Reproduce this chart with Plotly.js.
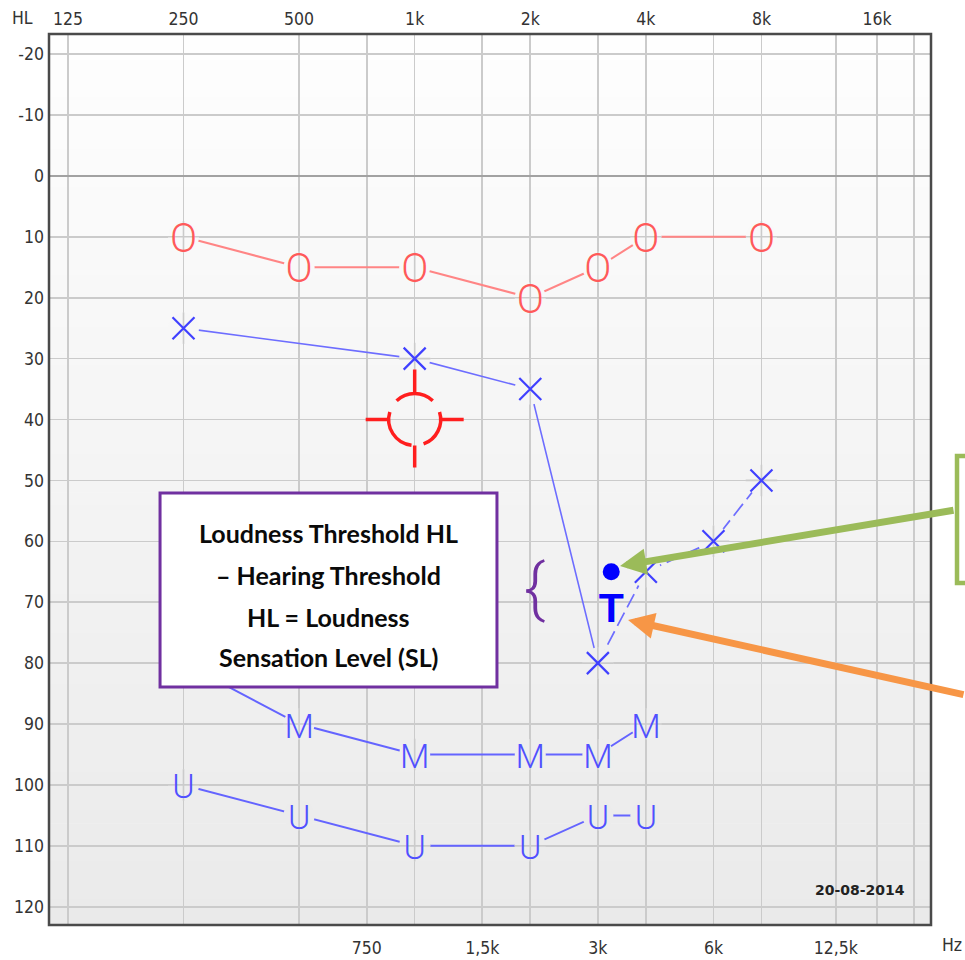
<!DOCTYPE html>
<html><head><meta charset="utf-8">
<script src="https://cdn.plot.ly/plotly-3.0.1.min.js"></script>
<style>html,body{margin:0;padding:0;background:#fff;}#chart{width:965px;height:960px;}</style>
</head><body><div id="chart"></div>
<script>
// ---------- data ----------
const TOP_TICK_FREQS = [125, 250, 500, 1000, 2000, 4000, 8000, 16000];
const TOP_TICK_LABELS = ['125', '250', '500', '1k', '2k', '4k', '8k', '16k'];
const BOTTOM_TICK_FREQS = [750, 1500, 3000, 6000, 12500];
const BOTTOM_TICK_LABELS = ['750', '1,5k', '3k', '6k', '12,5k'];
const GRID_FREQS = [125, 250, 500, 750, 1000, 1500, 2000, 3000, 4000, 6000, 8000, 12500, 16000, 20000];
const HL_TICKS = [-20, -10, 0, 10, 20, 30, 40, 50, 60, 70, 80, 90, 100, 110, 120];

const O_FREQ = [250, 500, 1000, 2000, 3000, 4000, 8000];
const O_HL = [10, 15, 15, 20, 15, 10, 10];
const X_FREQ = [250, 1000, 2000, 3000, 4000, 6000, 8000];
const X_HL = [25, 30, 35, 80, 65, 60, 50];
const X_DASH_FROM = 3;
const M_FREQ = [250, 500, 1000, 2000, 3000, 4000];
const M_HL = [80, 90, 95, 95, 95, 90];
const U_FREQ = [250, 500, 1000, 2000, 3000, 4000];
const U_HL = [100, 105, 110, 110, 105, 105];
const BONE_FREQ = [1000];
const BONE_HL = [40];
const LT_FREQ = [3250];
const LT_HL = [65];

// ---------- styles ----------
const X_RANGE = [Math.log10(111.6), Math.log10(22114)];
const Y_RANGE = [123.0, -23.3];
const PX_PER_DB = 891 / (Y_RANGE[0] - Y_RANGE[1]);
const GLYPH_SHIFT = 5 / PX_PER_DB;          // visual centring of text glyphs
const Y2_RANGE = [Y_RANGE[0] - GLYPH_SHIFT, Y_RANGE[1] - GLYPH_SHIFT];
const GRID_COLOR = '#cbcbcb';
const GRID_W = 1.6;
const TICK_FONT = {family: 'DejaVu Sans Condensed, DejaVu Sans, sans-serif', size: 17.5, color: '#333'};
const GLYPH_FONT = 'Roboto, sans-serif';

function bgColor(hl) {
  const t = Math.min(1, Math.max(0, (hl - Y_RANGE[1]) / (Y_RANGE[0] - Y_RANGE[1])));
  const c = Math.round(254 - t * (254 - 234));
  return 'rgb(' + c + ',' + c + ',' + c + ')';
}

const traces = [];
// invisible trace to carry the top axis
traces.push({x: O_FREQ, y: O_HL, xaxis: 'x2', yaxis: 'y', mode: 'markers', marker: {opacity: 0}, hoverinfo: 'skip', showlegend: false});

// connecting lines
traces.push({x: O_FREQ, y: O_HL, mode: 'lines', line: {color: '#ff8585', width: 2}, hoverinfo: 'skip'});
traces.push({x: X_FREQ.slice(0, X_DASH_FROM + 1), y: X_HL.slice(0, X_DASH_FROM + 1), mode: 'lines', line: {color: '#6d6dff', width: 1.6}, hoverinfo: 'skip'});
traces.push({x: X_FREQ.slice(X_DASH_FROM), y: X_HL.slice(X_DASH_FROM), mode: 'lines', line: {color: '#6d6dff', width: 1.7, dash: '15px,6px'}, hoverinfo: 'skip'});
traces.push({x: M_FREQ, y: M_HL, mode: 'lines', line: {color: '#6464ff', width: 2}, hoverinfo: 'skip'});
traces.push({x: U_FREQ, y: U_HL, mode: 'lines', line: {color: '#6464ff', width: 2}, hoverinfo: 'skip'});

// masks that open a gap in the connecting lines around each symbol, then restore the grid
const SERIES = [[O_FREQ, O_HL], [X_FREQ, X_HL], [M_FREQ, M_HL], [U_FREQ, U_HL]];
SERIES.forEach(([fx, hy]) => {
  traces.push({x: fx, y: hy, mode: 'markers', hoverinfo: 'skip',
    marker: {symbol: 'circle', size: 31, color: hy.map(bgColor), line: {width: 0}}});
  traces.push({x: fx, y: hy, mode: 'markers', hoverinfo: 'skip',
    marker: {symbol: hy.map(v => (v % 10 === 0 ? 'cross-thin-open' : 'line-ns-open')), size: 22.5,
      color: GRID_COLOR, line: {color: GRID_COLOR, width: GRID_W}}});
});

// symbols
traces.push({x: O_FREQ, y: O_HL, yaxis: 'y2', mode: 'text', text: O_FREQ.map(() => 'O'), textposition: 'middle center',
  textfont: {family: GLYPH_FONT, size: 40, color: '#ff5a5a', weight: 300}, hoverinfo: 'skip'});
traces.push({x: X_FREQ, y: X_HL, mode: 'markers', hoverinfo: 'skip',
  marker: {symbol: 'x-thin-open', size: 22, color: '#4040ff', line: {color: '#4040ff', width: 2.2}}});
traces.push({x: M_FREQ, y: M_HL, yaxis: 'y2', mode: 'text', text: M_FREQ.map(() => 'M'), textposition: 'middle center',
  textfont: {family: GLYPH_FONT, size: 34, color: '#5050ff', weight: 300}, hoverinfo: 'skip'});
traces.push({x: U_FREQ, y: U_HL, yaxis: 'y2', mode: 'text', text: U_FREQ.map(() => 'U'), textposition: 'middle center',
  textfont: {family: GLYPH_FONT, size: 34, color: '#5050ff', weight: 300}, hoverinfo: 'skip'});
traces.push({x: LT_FREQ, y: LT_HL, mode: 'markers', marker: {size: 17, color: '#0000ff'}, hoverinfo: 'skip'});
traces.push({x: LT_FREQ, y: LT_HL, mode: 'markers+text', text: LT_FREQ.map(() => 'T'), textposition: 'bottom center',
  marker: {size: 29, color: 'rgba(0,0,0,0)'},
  textfont: {family: 'Liberation Sans, Arial, sans-serif', size: 41, color: '#0000ff', weight: 'bold'}, hoverinfo: 'skip'});

// ---------- shapes ----------
const shapes = [];
const NB = 70;
for (let i = 0; i < NB; i++) {
  const a = Y_RANGE[1] + (Y_RANGE[0] - Y_RANGE[1]) * i / NB;
  const b = Y_RANGE[1] + (Y_RANGE[0] - Y_RANGE[1]) * (i + 1.05) / NB;
  shapes.push({type: 'rect', xref: 'paper', yref: 'y', x0: 0, x1: 1, y0: a, y1: b,
    fillcolor: bgColor((a + b) / 2), line: {width: 0}, layer: 'below'});
}

// bone-conduction symbol (glyph geometry in pixels around its data anchor)
function arc(r, a0, a1) {
  const rad = d => d * Math.PI / 180;
  const n = Math.ceil(Math.abs(a1 - a0) / 90);
  const step = (a1 - a0) / n;
  let p = '';
  for (let i = 0; i < n; i++) {
    const a = rad(a0 + step * i), b = rad(a0 + step * (i + 1));
    const k = 4 / 3 * Math.tan((b - a) / 4);
    const x0 = r * Math.cos(a), y0 = r * Math.sin(a);
    const x3 = r * Math.cos(b), y3 = r * Math.sin(b);
    const x1 = x0 - k * r * Math.sin(a), y1 = y0 + k * r * Math.cos(a);
    const x2 = x3 + k * r * Math.sin(b), y2 = y3 - k * r * Math.cos(b);
    if (i === 0) p += 'M' + x0.toFixed(2) + ',' + y0.toFixed(2);
    p += 'C' + x1.toFixed(2) + ',' + y1.toFixed(2) + ' ' + x2.toFixed(2) + ',' + y2.toFixed(2) + ' ' + x3.toFixed(2) + ',' + y3.toFixed(2);
  }
  return p;
}
const R = 26;
const bonePath = arc(R, 46, 134) + arc(R, 163, 263) + arc(R, 290, 377) +
  'M0,' + R + 'L0,50' + 'M0,-' + R + 'L0,-48' + 'M-' + R + ',0L-49,0' + 'M' + R + ',0L49,0';
BONE_FREQ.forEach((f, i) => {
  shapes.push({type: 'path', xref: 'x', yref: 'y', xsizemode: 'pixel', ysizemode: 'pixel',
    xanchor: f, yanchor: BONE_HL[i], path: bonePath,
    line: {color: '#ff1e1e', width: 3.5}, fillcolor: 'rgba(0,0,0,0)', layer: 'above'});
});

// plot frame
shapes.push({type: 'rect', xref: 'paper', yref: 'paper', x0: 0, x1: 1, y0: 0, y1: 1,
  line: {color: '#4a4a4a', width: 2.5}, layer: 'above'});
// explanation box
shapes.push({type: 'rect', xref: 'paper', yref: 'paper', x0: 0.1259, x1: 0.5079, y0: 0.2671, y1: 0.4848,
  fillcolor: '#ffffff', line: {color: '#7030a0', width: 3}, layer: 'above'});
// green box (cut at page edge)
shapes.push({type: 'rect', xref: 'paper', yref: 'paper', x0: 1.0295, x1: 1.3, y0: 0.3838, y1: 0.5264,
  fillcolor: '#ffffff', line: {color: '#9bbb59', width: 4.5}, layer: 'above'});

// ---------- annotations ----------
const BOX_LINES = ['Loudness Threshold HL', '– Hearing Threshold', 'HL = Loudness', 'Sensation Level (SL)'];
const BOX_LINE_Y = [0.440, 0.3928, 0.3457, 0.3008];
const annotations = BOX_LINES.map((t, i) => ({
  xref: 'paper', yref: 'paper', x: 0.3169, y: BOX_LINE_Y[i], text: t, showarrow: false,
  xanchor: 'center', yanchor: 'middle', font: {family: 'Lato, sans-serif', size: 25, color: '#0a0a0a', weight: 'bold'}
}));
annotations.push({xref: 'paper', yref: 'paper', x: 0.5505, y: 0.378, text: '{', showarrow: false,
  font: {family: GLYPH_FONT, size: 64, color: '#7030a0', weight: 300}});
annotations.push({xref: 'paper', yref: 'paper', x: 0.6474, y: 0.4029, text: '', showarrow: true,
  ax: 335, ay: -56, arrowhead: 2, arrowsize: 0.75, arrowwidth: 7, arrowcolor: '#9bbb59', standoff: 0});
annotations.push({xref: 'paper', yref: 'paper', x: 0.6565, y: 0.3423, text: '', showarrow: true,
  ax: 360, ay: 75, arrowhead: 2, arrowsize: 0.75, arrowwidth: 7, arrowcolor: '#f79646', standoff: 0});
annotations.push({xref: 'paper', yref: 'paper', x: 0.9728, y: 0.0393, xanchor: 'right', yanchor: 'middle',
  text: '20-08-2014', showarrow: false, font: {family: 'DejaVu Sans, sans-serif', size: 14, color: '#222', weight: 'bold'}});
annotations.push({xref: 'paper', yref: 'paper', x: -0.0306, y: 1.018, xanchor: 'center', yanchor: 'middle',
  text: 'HL', showarrow: false, font: TICK_FONT});
annotations.push({xref: 'paper', yref: 'paper', x: 1.0238, y: -0.0224, xanchor: 'center', yanchor: 'middle',
  text: 'Hz', showarrow: false, font: TICK_FONT});

const layout = {
  width: 965, height: 960,
  margin: {l: 49, r: 34, t: 34, b: 35},
  paper_bgcolor: '#ffffff', plot_bgcolor: '#fdfdfd',
  showlegend: false,
  xaxis: {type: 'log', range: X_RANGE, tickmode: 'array', tickvals: GRID_FREQS,
    ticktext: GRID_FREQS.map(f => { const i = BOTTOM_TICK_FREQS.indexOf(f); return i >= 0 ? BOTTOM_TICK_LABELS[i] : ''; }),
    showgrid: true, gridcolor: GRID_COLOR, gridwidth: GRID_W, zeroline: false, showline: false, ticks: '',
    tickfont: TICK_FONT, ticklabelstandoff: 10, fixedrange: true},
  xaxis2: {type: 'log', range: X_RANGE, overlaying: 'x', side: 'top', tickmode: 'array',
    tickvals: TOP_TICK_FREQS, ticktext: TOP_TICK_LABELS, showgrid: false, zeroline: false, showline: false,
    ticks: '', tickfont: TICK_FONT, ticklabelstandoff: 5, fixedrange: true},
  yaxis: {range: Y_RANGE, tickmode: 'array', tickvals: HL_TICKS, ticktext: HL_TICKS.map(String),
    showgrid: true, gridcolor: GRID_COLOR, gridwidth: GRID_W, zeroline: true, zerolinecolor: '#a2a2a2',
    zerolinewidth: 2.6, showline: false, ticks: '', tickfont: TICK_FONT, ticklabelstandoff: 4, fixedrange: true},
  yaxis2: {range: Y2_RANGE, overlaying: 'y', showgrid: false, zeroline: false, showline: false,
    showticklabels: false, ticks: '', fixedrange: true},
  shapes: shapes,
  annotations: annotations
};

Plotly.newPlot('chart', traces, layout, {displayModeBar: false, staticPlot: true});
</script>
</body></html>
